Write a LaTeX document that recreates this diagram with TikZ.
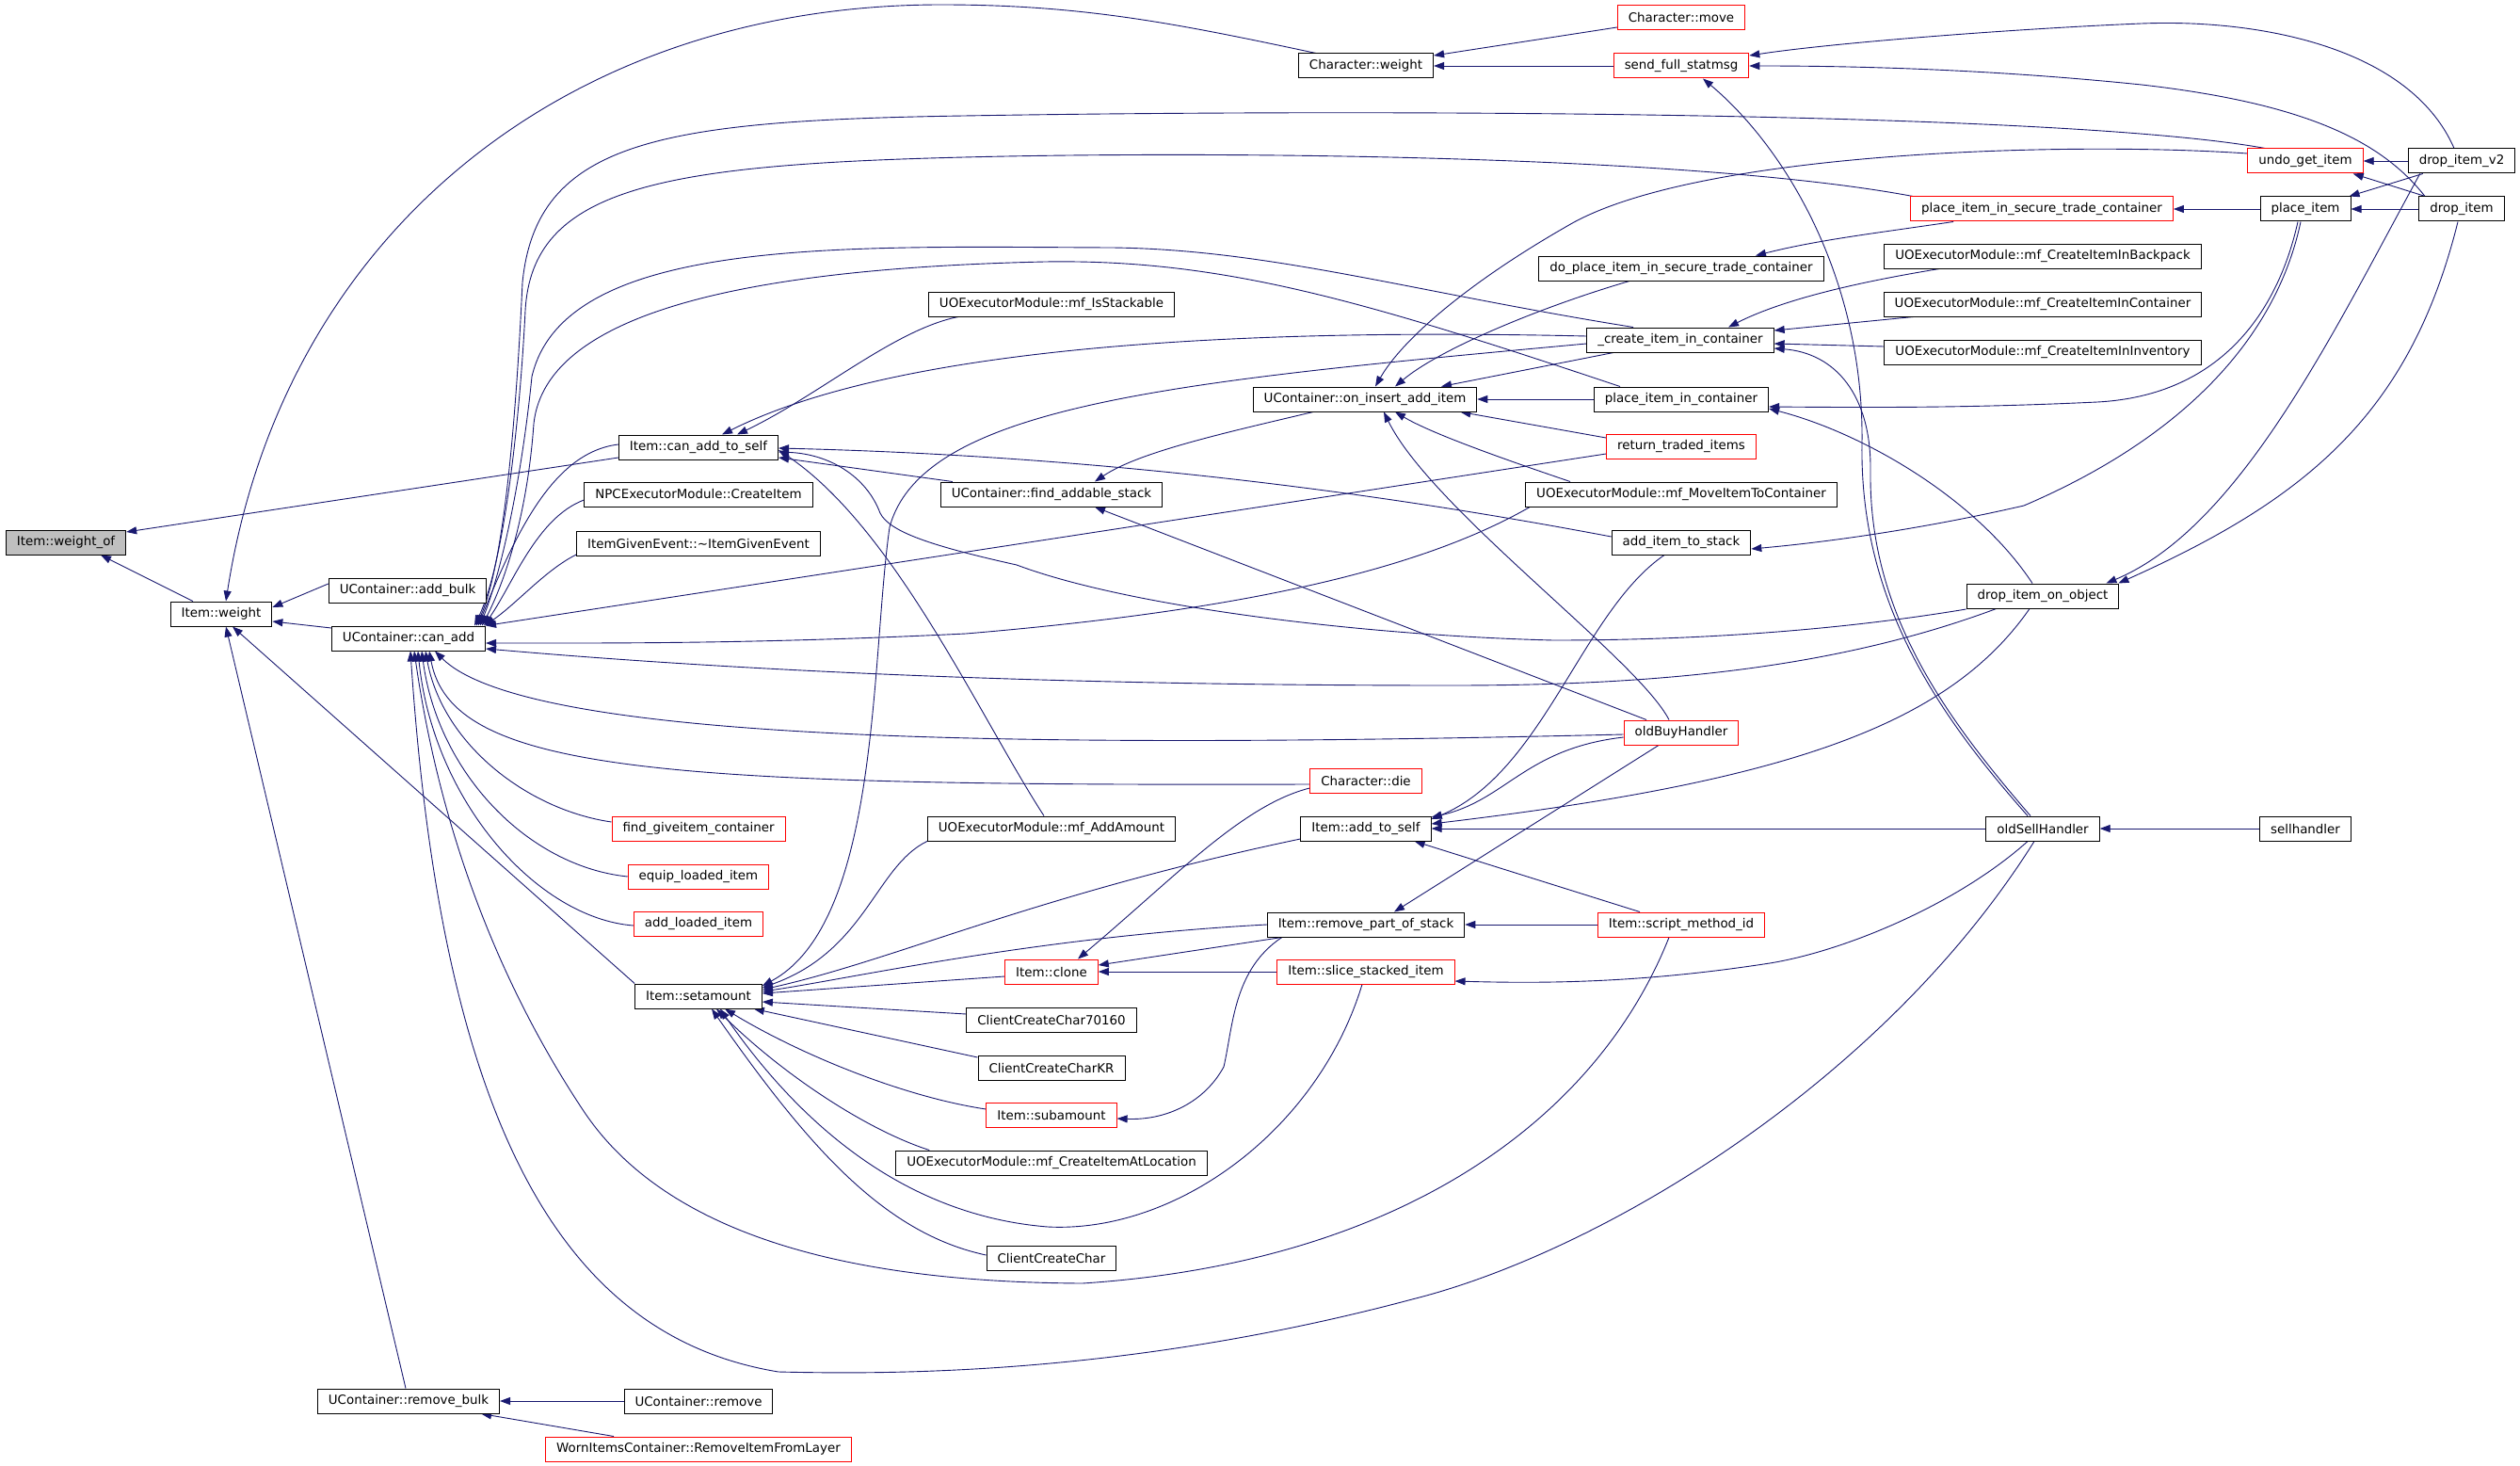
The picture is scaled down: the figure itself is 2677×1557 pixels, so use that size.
\documentclass[tikz,border=0pt]{standalone}
\usepackage{fontspec}
\setmainfont{DejaVu Sans}
\usetikzlibrary{arrows.meta,calc,backgrounds}
\definecolor{edgeblue}{RGB}{25,25,112}
\tikzset{
  fn/.style={draw=black, line width=1pt, fill=white, font=\fontsize{13.4}{16}\selectfont,
    inner xsep=11.5pt, inner ysep=0pt, minimum height=26pt},
  hot/.style={fn, draw=red},
  focus/.style={fn, fill=black!25},
  call/.style={draw=edgeblue, line width=0.9pt, -{Triangle[length=11pt,width=8pt]}},
}
\begin{document}
\begin{tikzpicture}[x=1pt,y=-1pt]
\useasboundingbox (0,0) rectangle (2677,1557);

%%%%% NODES %%%%%
\node[focus] (weightof) at (70,576) {Item::weight\_of};
\node[fn] (weight) at (235,652) {Item::weight};
\node[fn] (addbulk) at (433,627) {UContainer::add\_bulk};
\node[fn] (canadd) at (434,678) {UContainer::can\_add};
\node[fn] (removebulk) at (434,1488) {UContainer::remove\_bulk};

\node[fn] (canaddself) at (742,475) {Item::can\_add\_to\_self};
\node[fn] (npccreate) at (742,525) {NPCExecutorModule::CreateItem};
\node[fn] (givenevent) at (742,577) {ItemGivenEvent::\textasciitilde ItemGivenEvent};
\node[hot] (findgive) at (742,880) {find\_giveitem\_container};
\node[hot] (equip) at (742,931) {equip\_loaded\_item};
\node[hot] (addloaded) at (742,981) {add\_loaded\_item};
\node[fn] (setamount) at (742,1058) {Item::setamount};
\node[fn] (ucremove) at (742,1488) {UContainer::remove};
\node[hot] (wornremove) at (742,1539) {WornItemsContainer::RemoveItemFromLayer};

\node[fn] (isstackable) at (1117,323) {UOExecutorModule::mf\_IsStackable};
\node[fn] (findaddable) at (1117,525) {UContainer::find\_addable\_stack};
\node[fn] (addamount) at (1117,880) {UOExecutorModule::mf\_AddAmount};
\node[hot] (clone) at (1117,1032) {Item::clone};
\node[fn] (cc70160) at (1117,1083) {ClientCreateChar70160};
\node[fn] (cckr) at (1117,1134) {ClientCreateCharKR};
\node[hot] (subamount) at (1117,1184) {Item::subamount};
\node[fn] (createatloc) at (1117,1235) {UOExecutorModule::mf\_CreateItemAtLocation};
\node[fn] (ccchar) at (1117,1336) {ClientCreateChar};

\node[fn] (charweight) at (1451,70) {Character::weight};
\node[fn] (oninsert) at (1450,424) {UContainer::on\_insert\_add\_item};
\node[hot] (chardie) at (1451,829) {Character::die};
\node[fn] (addtoself) at (1451,880) {Item::add\_to\_self};
\node[fn] (removepart) at (1451,982) {Item::remove\_part\_of\_stack};
\node[hot] (slice) at (1451,1032) {Item::slice\_stacked\_item};

\node[hot] (charmove) at (1786,19) {Character::move};
\node[hot] (sendfull) at (1786,70) {send\_full\_statmsg};
\node[fn] (doplace) at (1786,285) {do\_place\_item\_in\_secure\_trade\_container};
\node[fn] (createin) at (1785,361) {\_create\_item\_in\_container};
\node[fn] (placein) at (1786,424) {place\_item\_in\_container};
\node[hot] (returntraded) at (1786,474) {return\_traded\_items};
\node[fn] (movetocont) at (1786,525) {UOExecutorModule::mf\_MoveItemToContainer};
\node[fn] (additemstack) at (1786,576) {add\_item\_to\_stack};
\node[hot] (oldbuy) at (1786,778) {oldBuyHandler};
\node[hot] (scriptmethod) at (1786,982) {Item::script\_method\_id};

\node[hot] (securetrade) at (2169,222) {place\_item\_in\_secure\_trade\_container};
\node[fn] (backpack) at (2170,272) {UOExecutorModule::mf\_CreateItemInBackpack};
\node[fn] (incontainer) at (2170,323) {UOExecutorModule::mf\_CreateItemInContainer};
\node[fn] (ininventory) at (2170,374) {UOExecutorModule::mf\_CreateItemInInventory};
\node[fn] (droponobj) at (2170,633) {drop\_item\_on\_object};
\node[fn] (oldsell) at (2170,880) {oldSellHandler};

\node[hot] (undoget) at (2449,171) {undo\_get\_item};
\node[fn] (placeitem) at (2449,222) {place\_item};
\node[fn] (sellhandler) at (2449,880) {sellhandler};
\node[fn] (dropv2) at (2615,171) {drop\_item\_v2};
\node[fn] (dropitem) at (2615,222) {drop\_item};

%%%%% CALLS %%%%%
\begin{pgfonlayer}{background}
\fill[white] (0,0) rectangle (2677,1557);

% Item::weight_of
\draw[call] ($(weight.north)+(-30,0)$) -- ($(weightof.south)+(37,0)$);
\draw[call] ($(canaddself.west)+(0,11)$) -- ($(weightof.east)+(0,-11)$);

% Item::weight
\draw[call] ($(charweight.north)+(-53,0)$) .. controls (1250,25) and (1150,5) .. (1000,5) .. controls (600,5) and (300,250) .. ($(weight.north)+(5,0)$);
\draw[call] ($(addbulk.west)+(0,-7)$) -- ($(weight.east)+(0,-7)$);
\draw[call] ($(canadd.west)+(0,-11)$) -- ($(weight.east)+(0,8)$);
\draw[call] (setamount.north west) -- ($(weight.south)+(12,0)$);
\draw[call] ($(removebulk.north)+(-3,0)$) -- ($(weight.south)+(5,0)$);

% Character::weight, send_full_statmsg
\draw[call] ($(charmove.west)+(0,10)$) -- ($(charweight.east)+(0,-11)$);
\draw[call] (sendfull) -- (charweight);
\draw[call] ($(dropv2.north)+(-8,0)$) .. controls (2560,50) and (2400,20) .. (2275,25) .. controls (2150,30) and (1950,45) .. ($(sendfull.east)+(0,-11)$);
\draw[call] ($(dropitem.north)+(-39,0)$) .. controls (2530,150) and (2450,110) .. (2275,90) .. controls (2100,72) and (1950,70) .. (sendfull.east);
\draw[call] ($(oldsell.north)+(-16,0)$) .. controls (2060,760) and (1975,640) .. (1978,470) .. controls (1980,300) and (1900,160) .. ($(sendfull.south)+(23,0)$);

% right column
\draw[call] (dropv2) -- (undoget);
\draw[call] ($(dropitem.north west)+(7,0)$) -- ($(undoget.south east)+(-11,0)$);
\draw[call] ($(dropv2.south west)+(16,0)$) -- ($(placeitem.north east)+(-2,0)$);
\draw[call] (dropitem) -- (placeitem);
\draw[call] (placeitem) -- (securetrade);
\draw[call] (sellhandler) -- (oldsell);
\draw[call] ($(securetrade.south west)+(46,0)$) .. controls (1990,248) and (1930,255) .. ($(doplace.north)+(79,0)$);

% _create_item_in_container
\draw[call] ($(backpack.south west)+(59,0)$) .. controls (1990,297) and (1900,315) .. ($(createin.north)+(51,0)$);
\draw[call] ($(incontainer.south west)+(32,0)$) -- ($(createin.east)+(0,-10)$);
\draw[call] ($(ininventory.west)+(0,-6)$) -- ($(createin.east)+(0,4)$);
\draw[call] ($(oldsell.north)+(-13,0)$) .. controls (2065,760) and (1985,650) .. (1987,500) .. controls (1988,420) and (1950,375) .. ($(createin.east)+(0,9)$);

% UContainer::on_insert_add_item
\draw[call] ($(doplace.south)+(-55,0)$) .. controls (1640,325) and (1530,370) .. ($(oninsert.north)+(32,0)$);
\draw[call] ($(createin.south)+(-71,0)$) -- ($(oninsert.north)+(81,0)$);
\draw[call] ($(undoget.west)+(0,-8)$) .. controls (2200,150) and (1800,160) .. (1665,240) .. controls (1560,300) and (1490,360) .. ($(oninsert.north)+(11,0)$);
\draw[call] (placein) -- (oninsert);
\draw[call] ($(returntraded.west)+(0,-9)$) -- ($(oninsert.south east)+(-18,0)$);
\draw[call] ($(movetocont.north)+(-118,0)$) .. controls (1590,485) and (1520,460) .. ($(oninsert.south)+(32,0)$);
\draw[call] ($(oldbuy.north)+(-13,0)$) .. controls (1740,700) and (1520,540) .. ($(oninsert.south)+(20,0)$);

% place_item_in_container, add_item_to_stack, drop_item_on_object
\draw[call] ($(placeitem.south)+(-8,0)$) .. controls (2420,330) and (2360,420) .. (2228,427) .. controls (2100,433) and (2000,433) .. ($(placein.east)+(0,8)$);
\draw[call] ($(droponobj.north)+(-11,0)$) .. controls (2100,530) and (1980,460) .. ($(placein.east)+(0,10)$);
\draw[call] ($(placeitem.south)+(-5,0)$) .. controls (2420,350) and (2330,460) .. (2150,537) .. controls (2050,560) and (1950,575) .. ($(additemstack.east)+(0,7)$);
\draw[call] ($(dropv2.south west)+(13,0)$) .. controls (2480,350) and (2380,560) .. ($(droponobj.north east)+(-14,0)$);
\draw[call] ($(dropitem.south)+(-4,0)$) .. controls (2560,440) and (2450,530) .. ($(droponobj.north east)+(-1,0)$);

% UContainer::find_addable_stack
\draw[call] ($(oninsert.south)+(-55,0)$) .. controls (1300,460) and (1210,480) .. ($(findaddable.north)+(46,0)$);
\draw[call] ($(oldbuy.north)+(-37,0)$) -- ($(findaddable.south)+(46,0)$);

% Item::can_add_to_self
\draw[call] ($(findaddable.north west)+(13,0)$) -- ($(canaddself.east)+(0,11)$);
\draw[call] ($(isstackable.south west)+(32,0)$) .. controls (950,350) and (870,420) .. ($(canaddself.north)+(41,0)$);
\draw[call] ($(createin.west)+(0,-4)$) .. controls (1300,348) and (950,370) .. ($(canaddself.north)+(25,0)$);
\draw[call] ($(additemstack.west)+(0,-6)$) .. controls (1500,530) and (1200,485) .. ($(canaddself.east)+(0,1)$);
\draw[call] ($(addamount.north)+(-8,0)$) .. controls (1040,760) and (950,560) .. ($(canaddself.east)+(0,3)$);
\draw[call] ($(droponobj.west)+(0,14)$) .. controls (1950,670) and (1800,680) .. (1650,680) .. controls (1450,675) and (1200,645) .. (1080,600) .. controls (990,580) and (945,565) .. (935,545) .. controls (920,505) and (880,482) .. ($(canaddself.east)+(0,5)$);

% UContainer::can_add, from above
\draw[call] ($(undoget.north west)+(19,0)$) .. controls (2200,120) and (1500,115) .. (1024,123) .. controls (700,128) and (570,150) .. (555,300) .. controls (548,450) and (535,600) .. ($(canadd.north east)+(-10,0)$);
\draw[call] ($(securetrade.north west)+(3,0)$) .. controls (1800,165) and (1300,160) .. (1024,167) .. controls (700,175) and (565,200) .. (558,330) .. controls (552,450) and (535,600) .. ($(canadd.north east)+(-12,0)$);
\draw[call] ($(createin.north)+(-50,0)$) .. controls (1500,310) and (1350,265) .. (1181,263) .. controls (900,262) and (600,250) .. (565,400) .. controls (555,500) and (535,600) .. ($(canadd.north east)+(-6,0)$);
\draw[call] ($(placein.north)+(-65,0)$) .. controls (1450,320) and (1300,275) .. (1110,278) .. controls (800,285) and (580,330) .. (567,450) .. controls (560,550) and (535,620) .. ($(canadd.north east)+(-4,0)$);
\draw[call] ($(canaddself.west)+(0,-3)$) .. controls (590,480) and (550,560) .. ($(canadd.north east)+(-8,0)$);
\draw[call] ($(npccreate.west)+(0,6)$) .. controls (570,550) and (545,620) .. ($(canadd.north east)+(-2,0)$);
\draw[call] ($(givenevent.west)+(0,12)$) .. controls (580,605) and (550,640) .. ($(canadd.north east)+(-1,0)$);
% from the right
\draw[call] ($(returntraded.west)+(0,8)$) -- (canadd.north east);
\draw[call] ($(movetocont.south west)+(5,0)$) .. controls (1500,610) and (1300,650) .. (1026,673) .. controls (800,684) and (650,683) .. ($(canadd.east)+(0,5)$);
\draw[call] ($(droponobj.south west)+(32,0)$) .. controls (1950,710) and (1760,728) .. (1542,728) .. controls (1200,728) and (850,718) .. ($(canadd.east)+(0,11)$);
% from below
\draw[call] ($(oldbuy.west)+(0,2)$) .. controls (1100,795) and (560,790) .. ($(canadd.south)+(28,0)$);
\draw[call] ($(chardie.west)+(0,4)$) .. controls (700,835) and (480,820) .. ($(canadd.south)+(22,0)$);
\draw[call] ($(findgive.west)+(0,-7)$) .. controls (560,860) and (470,790) .. ($(canadd.south)+(18,0)$);
\draw[call] (equip.west) .. controls (560,920) and (465,820) .. ($(canadd.south)+(14,0)$);
\draw[call] ($(addloaded.west)+(0,2)$) .. controls (570,975) and (460,850) .. ($(canadd.south)+(10,0)$);
\draw[call] ($(scriptmethod.south)+(-13,0)$) .. controls (1700,1180) and (1500,1340) .. (1150,1363) .. controls (950,1362) and (720,1330) .. (620,1180) .. controls (540,1060) and (470,900) .. ($(canadd.south)+(6,0)$);
\draw[call] ($(oldsell.south)+(-9,0)$) .. controls (2000,1150) and (1700,1330) .. (1500,1380) .. controls (1200,1460) and (950,1460) .. (827,1457) .. controls (600,1420) and (470,1200) .. ($(canadd.south)+(2,0)$);

% Item::add_to_self
\draw[call] ($(droponobj.south)+(-14,0)$) .. controls (2070,770) and (1900,830) .. ($(addtoself.east)+(0,-5)$);
\draw[call] ($(oldbuy.west)+(0,5)$) .. controls (1620,795) and (1600,850) .. ($(addtoself.east)+(0,-12)$);
\draw[call] ($(additemstack.south)+(-18,0)$) .. controls (1680,650) and (1640,820) .. ($(addtoself.east)+(0,-10)$);
\draw[call] (oldsell) -- (addtoself);
\draw[call] ($(scriptmethod.north)+(-44,0)$) -- ($(addtoself.south east)+(-18,0)$);

% Item::remove_part_of_stack, slice, clone, subamount
\draw[call] ($(oldbuy.south)+(-24,0)$) -- ($(removepart.north)+(30,0)$);
\draw[call] (scriptmethod) -- (removepart);
\draw[call] ($(oldsell.south)+(-16,0)$) .. controls (2080,960) and (1960,1010) .. (1880,1023) .. controls (1750,1043) and (1650,1045) .. ($(slice.east)+(0,10)$);
\draw[call] ($(chardie.west)+(0,8)$) .. controls (1320,855) and (1250,930) .. ($(clone.north)+(28,0)$);
\draw[call] ($(removepart.south west)+(16,0)$) -- ($(clone.east)+(0,-7)$);
\draw[call] (slice) -- (clone);
\draw[call] ($(removepart.south west)+(16,0)$) .. controls (1310,1030) and (1310,1090) .. (1300,1133) .. controls (1280,1170) and (1240,1190) .. ($(subamount.east)+(0,4)$);

% Item::setamount
\draw[call] ($(createin.west)+(0,4)$) .. controls (1250,405) and (980,430) .. (945,560) .. controls (925,700) and (935,980) .. ($(setamount.east)+(0,-11)$);
\draw[call] (addamount.south west) .. controls (930,920) and (920,1010) .. ($(setamount.east)+(0,-9)$);
\draw[call] ($(addtoself.west)+(0,11)$) .. controls (1100,950) and (950,1020) .. ($(setamount.east)+(0,-7)$);
\draw[call] (removepart.west) .. controls (1100,995) and (900,1040) .. ($(setamount.east)+(0,-5)$);
\draw[call] ($(clone.west)+(0,5)$) -- ($(setamount.east)+(0,-3)$);
\draw[call] ($(cc70160.west)+(0,-6)$) -- ($(setamount.east)+(0,6)$);
\draw[call] ($(cckr.west)+(0,-11)$) -- ($(setamount.south east)+(-9,0)$);
\draw[call] ($(subamount.west)+(0,-6)$) .. controls (960,1165) and (850,1120) .. ($(setamount.south)+(28,0)$);
\draw[call] ($(createatloc.north west)+(36,0)$) .. controls (920,1200) and (830,1140) .. ($(setamount.south)+(19,0)$);
\draw[call] ($(ccchar.west)+(0,-3)$) .. controls (940,1310) and (860,1220) .. ($(setamount.south)+(14,0)$);
\draw[call] ($(slice.south)+(-4,0)$) .. controls (1400,1200) and (1250,1310) .. (1113,1303) .. controls (950,1290) and (840,1180) .. ($(setamount.south)+(23,0)$);

% UContainer::remove_bulk
\draw[call] (ucremove) -- (removebulk);
\draw[call] ($(wornremove.north)+(-90,0)$) -- ($(removebulk.south east)+(-20,0)$);
\end{pgfonlayer}
\end{tikzpicture}
\end{document}
